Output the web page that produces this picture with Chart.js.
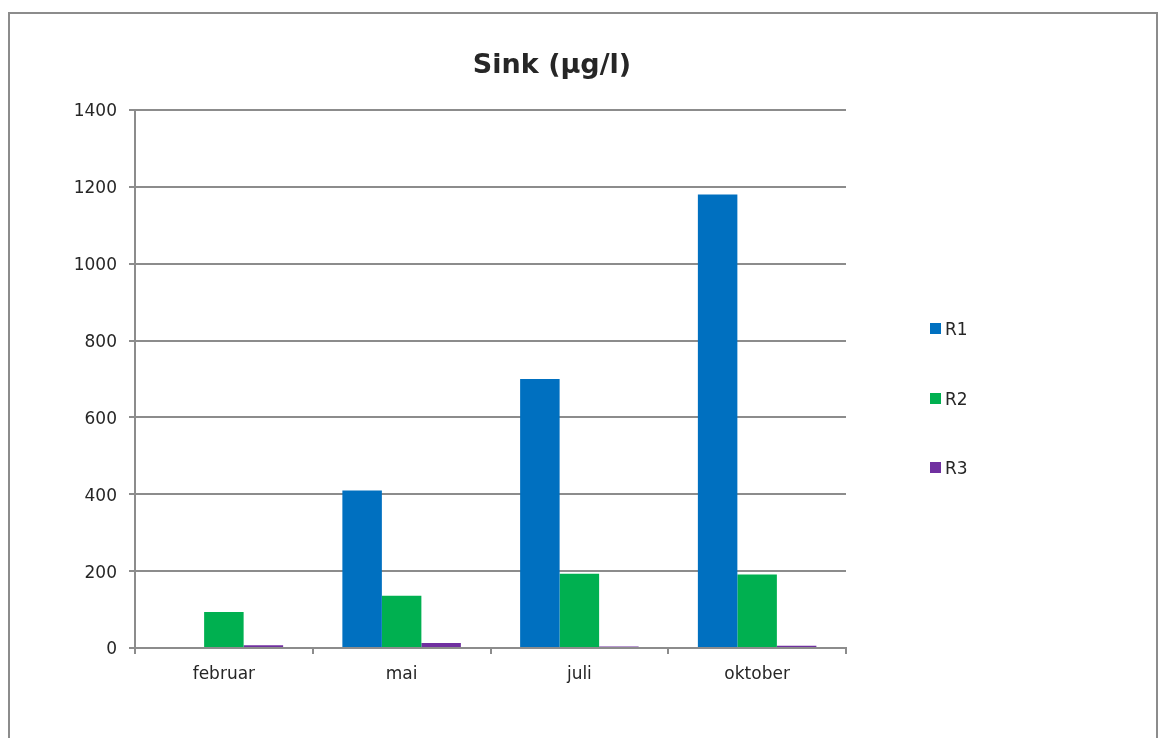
<!DOCTYPE html>
<html>
<head>
<meta charset="utf-8">
<title>Sink (µg/l)</title>
<script src="https://cdn.jsdelivr.net/npm/chart.js@4/dist/chart.umd.min.js"></script>
<style>
  html, body { margin: 0; padding: 0; background: #ffffff; }
  #wrap { width: 1159px; height: 738px; }
</style>
</head>
<body>
<div id="wrap"><canvas id="c" width="1159" height="738"></canvas></div>
<script>
// Measurement months and zinc concentrations per station (µg/l)
const months = ['februar', 'mai', 'juli', 'oktober'];
const r1Values = [0, 410, 700, 1180];
const r2Values = [94, 136, 193, 191];
const r3Values = [7, 13, 4, 6];
const seriesNames = ['R1', 'R2', 'R3'];
const yTicks = [0, 200, 400, 600, 800, 1000, 1200, 1400];
const chartTitle = 'Sink (µg/l)';

const FONT = '"DejaVu Sans", Verdana, sans-serif';
const TEXT = '#262626';
const LINE = '#8c8c8c';

// Outer frame around the whole chart
const framePlugin = {
  id: 'frame',
  beforeDraw(chart) {
    const ctx = chart.ctx;
    ctx.save();
    ctx.fillStyle = '#ffffff';
    ctx.fillRect(0, 0, chart.width, chart.height);
    ctx.strokeStyle = LINE;
    ctx.lineWidth = 2;
    ctx.strokeRect(9, 13, 1148, 800);
    ctx.restore();
  }
};

// Title drawn above the plot
const titlePlugin = {
  id: 'titleText',
  afterDraw(chart) {
    const ctx = chart.ctx;
    ctx.save();
    ctx.font = 'bold 27px ' + FONT;
    ctx.fillStyle = TEXT;
    ctx.textAlign = 'center';
    ctx.textBaseline = 'alphabetic';
    ctx.fillText(chartTitle, 552, 73);
    ctx.restore();
  }
};

// Vertical legend to the right of the plot
const legendPlugin = {
  id: 'sideLegend',
  afterDraw(chart) {
    const ctx = chart.ctx;
    ctx.save();
    ctx.font = '17px ' + FONT;
    ctx.textAlign = 'left';
    ctx.textBaseline = 'alphabetic';
    chart.data.datasets.forEach((ds, i) => {
      const top = 323 + i * 69.7;
      ctx.fillStyle = ds.backgroundColor;
      ctx.fillRect(930, Math.round(top), 11, 11);
      ctx.fillStyle = TEXT;
      ctx.fillText(ds.label, 945, Math.round(top) + 12);
    });
    ctx.restore();
  }
};

const colors = ['#0070C0', '#00B050', '#7030A0'];
const values = [r1Values, r2Values, r3Values];

new Chart(document.getElementById('c'), {
  type: 'bar',
  data: {
    labels: months,
    datasets: seriesNames.map((name, i) => ({
      label: name,
      data: values[i],
      backgroundColor: colors[i],
      borderWidth: 0,
      categoryPercentage: 0.6667,
      barPercentage: 1.0
    }))
  },
  options: {
    responsive: false,
    animation: false,
    devicePixelRatio: 1,
    layout: { padding: { left: 0, right: 313, top: 110, bottom: 0 } },
    plugins: {
      legend: { display: false },
      title: { display: false },
      tooltip: { enabled: false }
    },
    scales: {
      x: {
        grid: {
          offset: true,
          drawOnChartArea: false,
          drawTicks: true,
          tickLength: 6,
          color: LINE,
          lineWidth: 2
        },
        border: { color: LINE, width: 2 },
        ticks: {
          color: TEXT,
          font: { family: FONT, size: 17 },
          padding: 10,
          maxRotation: 0
        },
        afterFit(scale) { scale.height = 90; }
      },
      y: {
        min: 0,
        max: 1400,
        afterBuildTicks(scale) { scale.ticks = yTicks.map(v => ({ value: v })); },
        grid: {
          color: LINE,
          lineWidth: 2,
          tickLength: 6
        },
        border: { color: LINE, width: 2 },
        ticks: {
          color: TEXT,
          font: { family: FONT, size: 17 },
          padding: 12,
          labelOffset: 2,
          callback: (v) => String(v)
        },
        afterFit(scale) { scale.width = 135; }
      }
    }
  },
  plugins: [framePlugin, titlePlugin, legendPlugin]
});
</script>
</body>
</html>
